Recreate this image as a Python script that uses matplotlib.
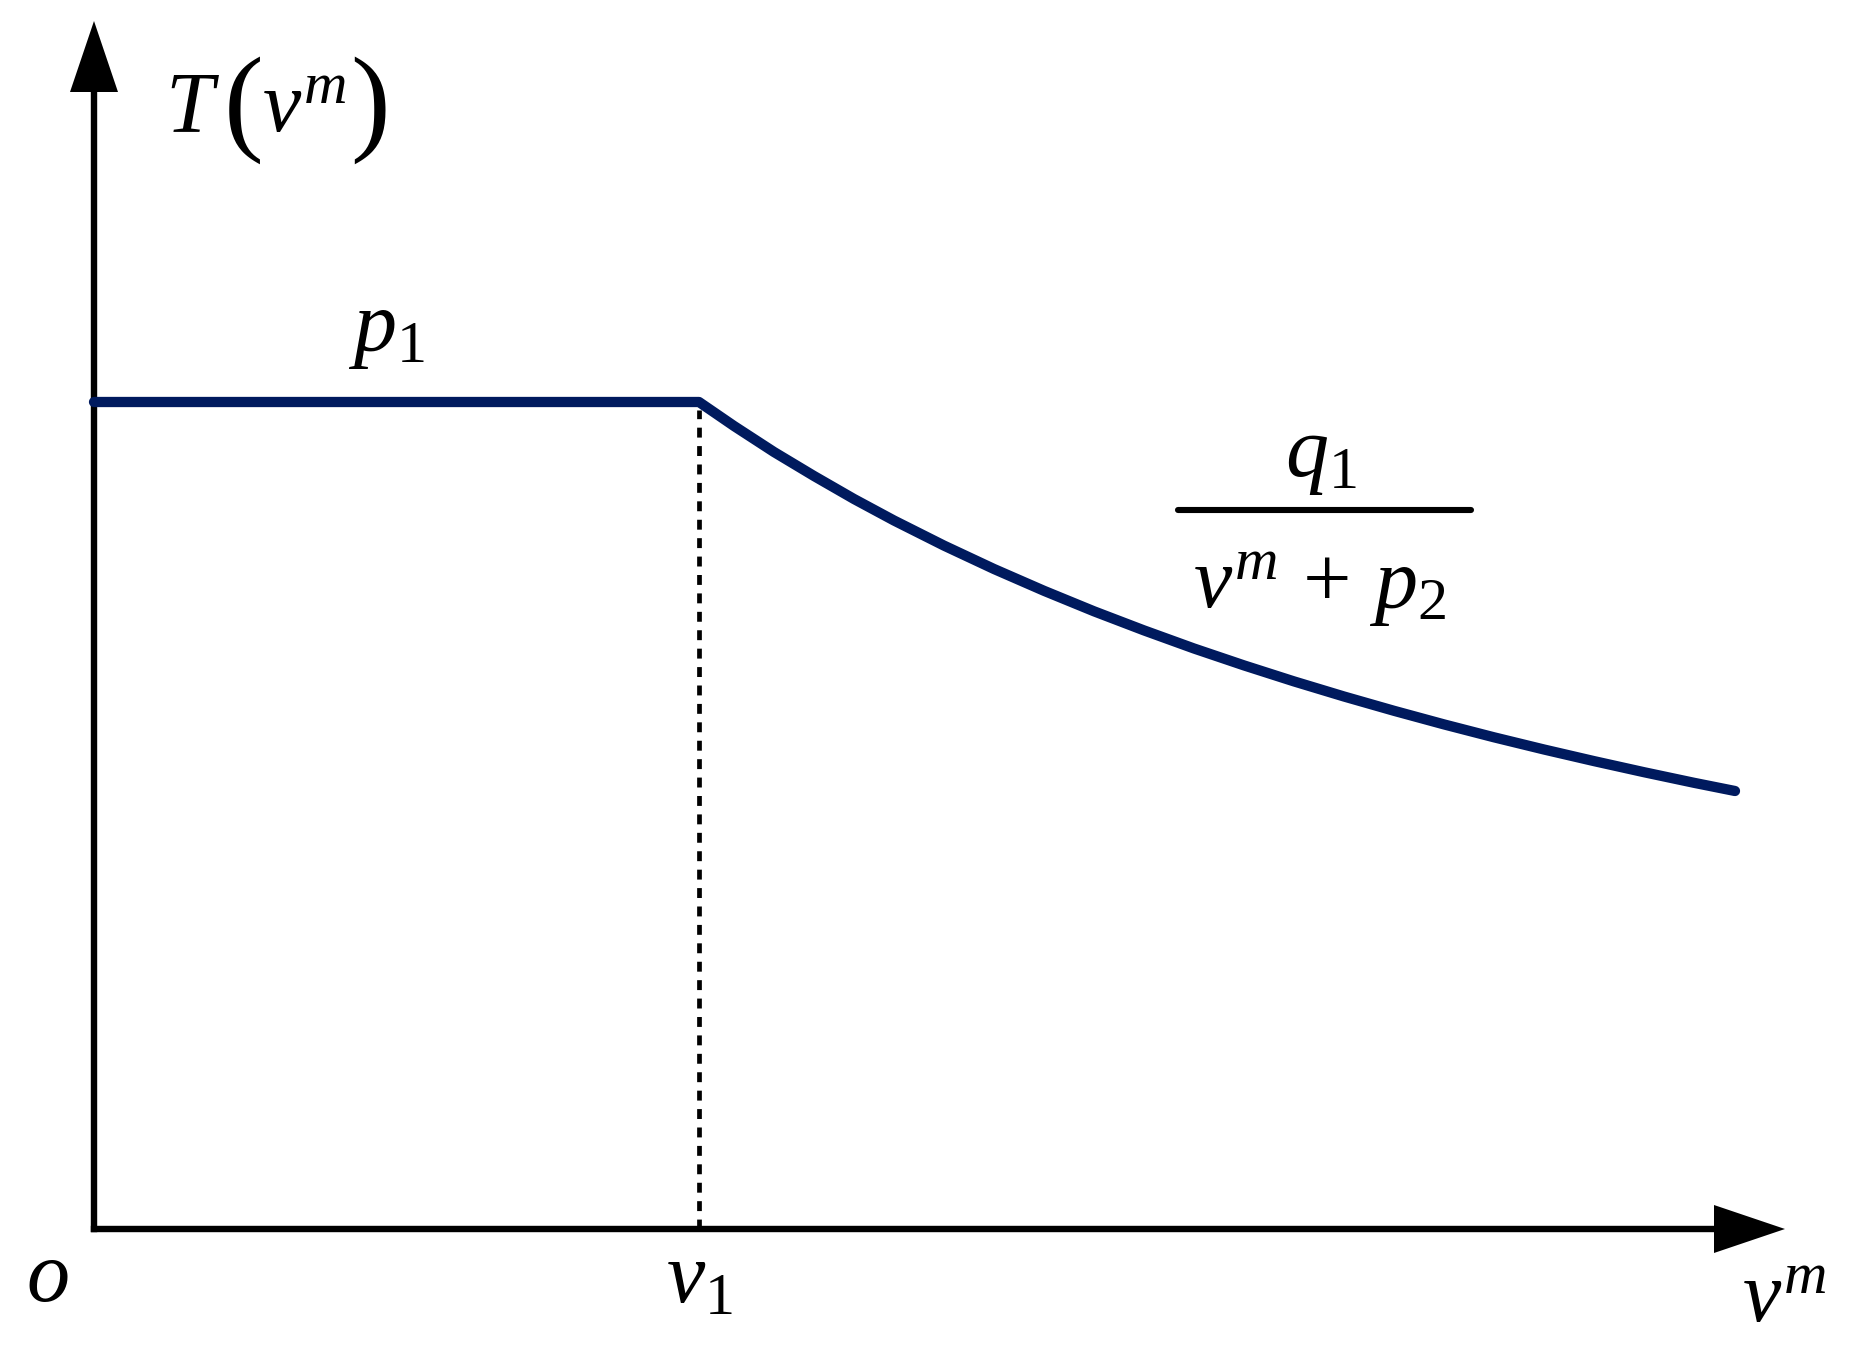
import matplotlib
matplotlib.use("Agg")
import matplotlib.pyplot as plt
from matplotlib.patches import Polygon

plt.rcParams['mathtext.fontset'] = 'custom'
plt.rcParams['mathtext.rm'] = 'Liberation Serif'
plt.rcParams['mathtext.it'] = 'Liberation Serif:italic'
plt.rcParams['font.family'] = 'Liberation Serif'

# piecewise curve T(v^m) (arbitrary units, origin at o)
v1 = 605
p1_level = 827
v_curve = [0, 605, 640, 680, 720, 760, 800, 850, 900, 950, 1000, 1050, 1100,
           1150, 1200, 1250, 1300, 1350, 1400, 1450, 1500, 1550, 1600, 1641]
T_curve = [827, 827, 803, 777, 753, 730, 708.5, 683.4, 660, 638.2, 617.7, 598.6, 580.5,
           563.6, 547.6, 532.5, 518.2, 504.6, 491.7, 479.5, 467.9, 456.8, 446.2, 438]

x_end = 1691   # x arrow tip
y_end = 1208   # y arrow tip

navy = '#001a5e'

fig = plt.figure(figsize=(18.66, 13.67), dpi=100)
ax = fig.add_axes([0, 0, 1, 1])
ax.set_xlim(-94, 1772)
ax.set_ylim(-138, 1229)
ax.axis('off')

# axes with arrow heads
ax.plot([0, x_end - 71], [0, 0], color='k', lw=4.6, solid_capstyle='projecting')
ax.plot([0, 0], [0, y_end - 71], color='k', lw=4.6, solid_capstyle='projecting')
ax.add_patch(Polygon([[x_end, 0], [x_end - 71, 24], [x_end - 71, -24]], closed=True, color='k', lw=0))
ax.add_patch(Polygon([[0, y_end], [-24, y_end - 71], [24, y_end - 71]], closed=True, color='k', lw=0))

# dashed guide at v1
ax.plot([v1, v1], [0, p1_level - 8], color='k', lw=3.4, dashes=(2.1, 1.8))

# the curve
ax.plot(v_curve, T_curve, color=navy, lw=7.4, solid_capstyle='round', solid_joinstyle='round')

fs = 62
# y axis label
ax.text(71, 1097, r'$T$', fontsize=fs, ha='left', va='baseline')
ax.text(150, 1119, '(', fontsize=86, ha='center', va='center')
ax.text(276, 1119, ')', fontsize=86, ha='center', va='center')
ax.text(168, 1097, r'$v^{m}$', fontsize=fs, ha='left', va='baseline')

ax.text(-47, -51, r'$o$', fontsize=fs, ha='center', va='center')
ax.text(605, -73, r'$v_{1}$', fontsize=fs, ha='center', va='baseline')
ax.text(1690, -93, r'$v^{m}$', fontsize=fs, ha='center', va='baseline')

# segment labels
ax.text(292, 879, r'$p_{1}$', fontsize=fs, ha='center', va='baseline')
ax.text(1227, 753, r'$q_{1}$', fontsize=fs, ha='center', va='baseline')
ax.plot([1084, 1377], [719, 719], color='k', lw=4.4, solid_capstyle='round')
ax.text(1226, 621, r'$v^{m}\,+\,p_{2}$', fontsize=fs, ha='center', va='baseline')

fig.savefig('out.png', dpi=100)
